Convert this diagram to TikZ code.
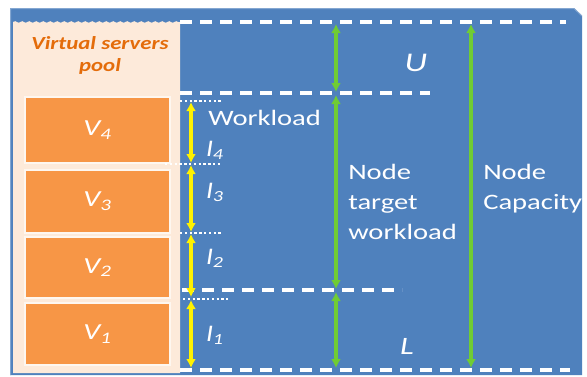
\documentclass[tikz,border=0pt]{standalone}
\usepackage{fontspec}
\setmainfont{Carlito}
\usepackage{tikz}
\usetikzlibrary{arrows.meta, positioning, calc, decorations.pathmorphing}

\definecolor{panelblue}{RGB}{79,129,189}
\definecolor{poolpeach}{RGB}{253,234,218}
\definecolor{vsorange}{RGB}{247,150,70}
\definecolor{titleorange}{RGB}{228,108,10}
\definecolor{spangreen}{RGB}{112,204,52}

\tikzset{
  vserver/.style={draw=white!60!poolpeach, line width=1.8pt, fill=vsorange,
    minimum width=145pt, inner sep=0pt},
  lbl/.style={text=white, xscale=1.3, inner sep=0pt, font=\fontsize{22}{30}\selectfont},
  level/.style={white, line width=3.2pt, dash pattern=on 12pt off 8pt},
  split/.style={white, line width=2.6pt, dash pattern=on 2.4pt off 2.4pt},
  span/.style={spangreen, line width=3.2pt, {Latex[length=9pt,width=10pt]}-{Latex[length=9pt,width=10pt]}},
  share/.style={yellow, line width=3.2pt, {Latex[length=9pt,width=10pt]}-{Latex[length=9pt,width=10pt]}},
}

\begin{document}
\begin{tikzpicture}[x=1pt, y=-1pt]
\useasboundingbox (0,0) rectangle (587,376);

% Node panel
\fill[panelblue] (10,8) -- (574,8) -- (582,16) -- (582,375) -- (10,375) -- cycle;
\draw[panelblue!70!white, line width=1pt] (10.5,375) -- (10.5,8.5) -- (574,8.5) -- (582,16);

% Pool of virtual servers
\fill[poolpeach] (13,22) decorate[decoration={snake, amplitude=0.8pt, segment length=7pt}]
  {-- (180,22)} -- (180,373) -- (13,373) -- cycle;
\node[lbl, text=titleorange, align=center, xscale=0.95, font=\fontsize{18.5}{22}\selectfont\bfseries\itshape]
  (poolTitle) at (100,55) {Virtual servers\\pool};

\node[vserver, minimum height=66pt] (vFour) at (97.5,130) {};
\node[vserver, minimum height=63pt] (vThree) at (97.5,201.5) {};
\node[vserver, minimum height=61pt] (vTwo) at (97.5,267.5) {};
\node[vserver, minimum height=62pt] (vOne) at (97.5,334) {};
\foreach \v/\i in {vFour/4, vThree/3, vTwo/2, vOne/1}
  \node[lbl, font=\fontsize{23}{26}\selectfont\itshape] at (\v.center) {V\textsubscript{\i}};

% Workload levels
\coordinate (topL) at (180,22);   \coordinate (topR) at (566,22);
\coordinate (upL) at (180,93);    \coordinate (upR) at (430,93);
\coordinate (lowL) at (182,290);  \coordinate (lowR) at (402,290);
\coordinate (botL) at (180,370);  \coordinate (botR) at (570,370);
\draw[level] (topL) -- (topR);
\draw[level] (upL) -- (upR);
\draw[level] (lowL) -- (lowR);
\draw[level] (botL) -- (botR);

% Borders between virtual servers
\coordinate (sFour) at (180,101);  \coordinate (sFourR) at (222,101);
\coordinate (sThree) at (165,164); \coordinate (sThreeR) at (222,164);
\coordinate (sTwo) at (180,233);   \coordinate (sTwoR) at (222,233);
\coordinate (sOne) at (183,299);   \coordinate (sOneR) at (228,299);
\foreach \a/\b in {sFour/sFourR, sThree/sThreeR, sTwo/sTwoR, sOne/sOneR}
  \draw[split] (\a) -- (\b);

% Per-server loads
\draw[share] (191,102) -- (191,163);
\draw[share] (191,165) -- (191,232);
\draw[share] (191,234) -- (191,297);
\draw[share] (191,300) -- (191,368);
\foreach \y/\i in {150/4, 192/3, 258/2, 335/1}
  \node[lbl, font=\fontsize{22}{26}\selectfont\itshape] at (215,\y) {l\textsubscript{\i}};
\node[lbl, anchor=west] (workload) at (208,118) {Workload};

% Target and capacity spans
\draw[span] (336,24) -- (336,92);
\draw[span] (336,95) -- (336,289);
\draw[span] (336,292) -- (336,368);
\draw[span] (471,24) -- (471,368);
\node[lbl, font=\fontsize{27}{30}\selectfont\itshape] (upper) at (416,63) {U};
\node[lbl, font=\fontsize{25}{30}\selectfont\itshape] (lower) at (407,346) {L};
\node[lbl, anchor=north west, align=left] (target) at (348,164) {Node\\target\\workload};
\node[lbl, anchor=north west, align=left] (capacity) at (483,164) {Node\\Capacity};
\end{tikzpicture}
\end{document}
